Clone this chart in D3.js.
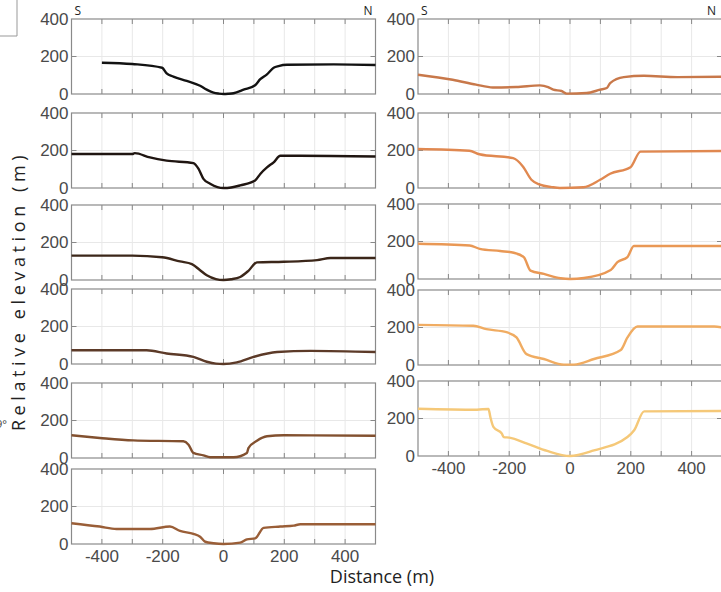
<!DOCTYPE html>
<html>
<head>
<meta charset="utf-8">
<script src="https://cdn.jsdelivr.net/npm/d3@7"></script>
<style>
  body { margin: 0; background: #fff; }
  svg { display: block; }
  .tick-label { font-family: "Liberation Sans", Arial, sans-serif; font-size: 17px; fill: #4a4a4a; }
</style>
</head>
<body>
<div id="chart"></div>
<script>
// elevation profiles, [distance (m), relative elevation (m)]
var profileL1 = [[-400,167],[-300,160],[-202,140],[-187,110],[-165,93],[-121,70],[-77,44],[-55,23],[-33,7],[-15,2],[0,0],[15,1],[33,4],[66,23],[104,47],[121,79],[143,105],[165,140],[181,149],[209,156],[363,158],[500,155]];
var profileL2 = [[-500,181],[-300,181],[-292,186],[-242,163],[-187,146],[-99,133],[-82,102],[-66,49],[-44,23],[-20,5],[0,0],[25,3],[55,14],[104,40],[121,75],[143,110],[165,137],[187,172],[252,172],[500,168]];
var profileL3 = [[-500,130],[-300,130],[-202,121],[-143,99],[-104,85],[-77,52],[-55,25],[-25,5],[0,0],[25,4],[55,16],[82,49],[110,94],[198,97],[308,106],[352,117],[500,117]];
var profileL4 = [[-500,73],[-253,73],[-187,56],[-99,38],[-55,12],[-25,2],[0,0],[44,9],[99,38],[176,64],[286,70],[500,64]];
var profileL5 = [[-500,121],[-407,107],[-297,94],[-132,89],[-115,71],[-99,27],[-66,14],[-44,4],[33,4],[77,27],[82,53],[110,92],[143,116],[198,121],[500,119]];
var profileL6 = [[-500,111],[-407,93],[-352,80],[-242,80],[-176,93],[-143,70],[-99,54],[-77,39],[-60,12],[-33,4],[0,0],[55,7],[77,25],[104,30],[132,86],[187,93],[231,98],[253,105],[500,105]];
var profileR1 = [[-500,103],[-386,76],[-309,50],[-254,35],[-177,37],[-99,46],[-72,37],[-55,23],[-28,16],[-11,2],[55,5],[99,23],[121,32],[132,58],[177,90],[243,97],[353,90],[500,92]];
var profileR2 = [[-500,208],[-331,199],[-298,180],[-187,159],[-155,115],[-127,44],[-99,18],[-60,5],[-33,0],[44,4],[99,44],[132,76],[199,111],[232,194],[500,197]];
var profileR3 = [[-500,188],[-330,179],[-297,161],[-230,149],[-185,140],[-152,117],[-130,45],[-86,27],[-31,4],[0,0],[46,5],[134,48],[156,90],[189,117],[210,176],[500,176]];
var profileR4 = [[-500,214],[-318,209],[-275,191],[-209,175],[-176,147],[-143,58],[-86,32],[-20,2],[13,2],[79,32],[167,80],[189,147],[222,205],[475,205],[500,200]];
var profileR5 = [[-500,252],[-306,247],[-268,251],[-262,208],[-252,155],[-224,119],[-218,101],[-200,98],[-141,66],[-75,27],[0,0],[79,30],[189,101],[211,137],[244,238],[500,240]];

var leftProfiles = [profileL1, profileL2, profileL3, profileL4, profileL5, profileL6];
var rightProfiles = [profileR1, profileR2, profileR3, profileR4, profileR5];
var leftColors = ["#121212", "#1f1511", "#3b2619", "#5c3a28", "#82502f", "#9a5e37"];
var rightColors = ["#c8784a", "#e08850", "#e99855", "#f0ac62", "#f5c878"];

var xTicks = [-400, -200, 0, 200, 400];
var xGrid = [-400, -300, -200, -100, 0, 100, 200, 300, 400];
var yTicks = [0, 200, 400];

var W = 721, H = 592;
var svg = d3.select("#chart").append("svg").attr("width", W).attr("height", H);

var panelH = 75;
var leftCol = { x0: 71.5, x1: 375.5, tops: [19, 113, 205, 289, 383, 469] };
var rightCol = { x0: 418, x1: 722, tops: [19, 113, 204, 290, 381] };

var line = d3.line().curve(d3.curveMonotoneX);

function drawPanel(col, top, data, color, showX, showSN) {
    var x = d3.scaleLinear().domain([-500, 500]).range([col.x0, col.x1]);
    var y = d3.scaleLinear().domain([0, 400]).range([top + panelH, top]);
    var g = svg.append("g");

    // grid
    g.selectAll(".gx").data(xGrid).enter().append("line")
        .attr("x1", function(d) { return x(d); }).attr("x2", function(d) { return x(d); })
        .attr("y1", top).attr("y2", top + panelH)
        .attr("stroke", "#e8e8e8").attr("stroke-width", 1);
    g.append("line")
        .attr("x1", col.x0).attr("x2", col.x1)
        .attr("y1", y(200)).attr("y2", y(200))
        .attr("stroke", "#e8e8e8").attr("stroke-width", 1);

    // inward ticks, top and bottom
    xGrid.forEach(function(d) {
        g.append("line").attr("x1", x(d)).attr("x2", x(d)).attr("y1", top).attr("y2", top + 5)
            .attr("stroke", "#888");
        g.append("line").attr("x1", x(d)).attr("x2", x(d)).attr("y1", top + panelH).attr("y2", top + panelH - 5)
            .attr("stroke", "#888");
    });
    g.append("line").attr("x1", col.x0).attr("x2", col.x0 + 5).attr("y1", y(200)).attr("y2", y(200)).attr("stroke", "#888");
    g.append("line").attr("x1", col.x1).attr("x2", col.x1 - 5).attr("y1", y(200)).attr("y2", y(200)).attr("stroke", "#888");

    // box
    g.append("rect")
        .attr("x", col.x0).attr("y", top)
        .attr("width", col.x1 - col.x0).attr("height", panelH)
        .attr("fill", "none").attr("stroke", "#8a8a8a").attr("stroke-width", 1.2);

    // y labels
    g.selectAll(".yl").data(yTicks).enter().append("text")
        .attr("class", "tick-label")
        .attr("x", col.x0 - 3).attr("y", function(d) { return y(d); })
        .attr("dy", "0.35em").attr("text-anchor", "end")
        .text(function(d) { return d; });

    if (showX) {
        g.selectAll(".xl").data(xTicks).enter().append("text")
            .attr("class", "tick-label")
            .attr("x", function(d) { return x(d); }).attr("y", top + panelH + 12)
            .attr("dy", "0.35em").attr("text-anchor", "middle")
            .text(function(d) { return d; });
    }
    if (showSN) {
        g.append("text").attr("x", col.x0 + 3).attr("y", top - 4)
            .attr("font-family", "Open Sans, sans-serif").attr("font-size", 12).attr("fill", "#222").text("S");
        g.append("text").attr("x", Math.min(col.x1, 719) - 3).attr("y", top - 4).attr("text-anchor", "end")
            .attr("font-family", "Open Sans, sans-serif").attr("font-size", 12).attr("fill", "#222").text("N");
    }

    g.append("path")
        .attr("d", line(data.map(function(p) { return [x(p[0]), y(p[1])]; })))
        .attr("fill", "none").attr("stroke", color)
        .attr("stroke-width", 2.4).attr("stroke-linejoin", "round");
}

leftProfiles.forEach(function(p, i) {
    drawPanel(leftCol, leftCol.tops[i], p, leftColors[i], i === leftProfiles.length - 1, i === 0);
});
rightProfiles.forEach(function(p, i) {
    drawPanel(rightCol, rightCol.tops[i], p, rightColors[i], i === rightProfiles.length - 1, i === 0);
});

// axis titles
svg.append("text")
    .attr("transform", "translate(25,291) rotate(-90)")
    .attr("text-anchor", "middle")
    .attr("font-family", "Open Sans, sans-serif").attr("font-size", 18)
    .attr("letter-spacing", 4.6).attr("fill", "#222")
    .text("Relative elevation (m)");
svg.append("text")
    .attr("x", 382).attr("y", 583).attr("text-anchor", "middle")
    .attr("font-family", "Open Sans, sans-serif").attr("font-size", 18).attr("fill", "#222")
    .text("Distance (m)");

// clipped remnants at the left edge
svg.append("path").attr("d", "M0,36H17V0").attr("fill", "none").attr("stroke", "#999").attr("stroke-width", 1);
svg.append("text").attr("x", -4).attr("y", 428)
    .attr("font-family", "Open Sans, sans-serif").attr("font-size", 11).attr("fill", "#444").text("9°");
</script>
</body>
</html>
